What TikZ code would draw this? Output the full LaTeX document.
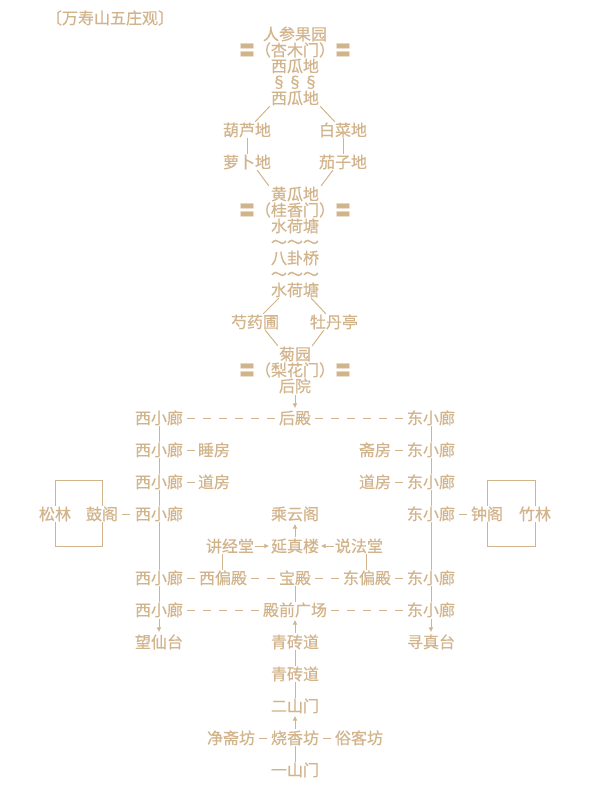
\documentclass[tikz,border=0pt]{standalone}
\usepackage{fontspec}
\newfontfamily\cjk[FakeBold=0.6]{Noto Sans CJK SC}
\usepackage{xcolor}
\usepackage{tikz}
\usetikzlibrary{arrows.meta}
\definecolor{tanline}{HTML}{D2B48C}

\begin{document}
\begin{tikzpicture}[x=1pt, y=-1pt,
  txt/.style={inner sep=0pt, text height=14pt, text depth=2pt, text=tanline,
              font=\cjk\fontsize{16}{16}\selectfont},
  lnk/.style={draw=tanline, line width=1pt},
  dsh/.style={lnk, dash pattern=on 8pt off 8pt, dash phase=12pt},
  arr/.style={lnk, -{Latex[length=5pt,width=5pt]}, shorten <=1pt, shorten >=1.5pt}]
  \useasboundingbox (0,0) rectangle (593,790);

  % garden part
  \node[txt] (title) at (110,18) {〔万寿山五庄观〕};
  \node[txt] (renshen) at (295,34) {人参果园};
  \node[txt] (xingmu) at (295,50) {〓（杏木门）〓};
  \node[txt] (xigua1) at (295,66) {西瓜地};
  \foreach \x [count=\i] in {279,295,311}
    \node[txt] (vine\i) at (\x,82) {§};
  \node[txt] (xigua2) at (295,98) {西瓜地};
  \node[txt] (hulu) at (247,130) {葫芦地};
  \node[txt] (baicai) at (343,130) {白菜地};
  \node[txt] (luobo) at (247,162) {萝卜地};
  \node[txt] (qiezi) at (343,162) {茄子地};
  \node[txt] (huanggua) at (295,194) {黄瓜地};
  \node[txt] (guixiang) at (295,210) {〓（桂香门）〓};
  \node[txt] (pond1) at (295,226) {水荷塘};
  \node[txt] (wave1) at (295,242) {～～～};
  \node[txt] (bagua) at (295,258) {八卦桥};
  \node[txt] (wave2) at (295,274) {～～～};
  \node[txt] (pond2) at (295,290) {水荷塘};
  \node[txt] (shaoyao) at (255,322) {芍药圃};
  \node[txt] (mudan) at (334,322) {牡丹亭};
  \node[txt] (juyuan) at (295,354) {菊园};
  \node[txt] (lihua) at (295,370) {〓（梨花门）〓};
  \node[txt] (houyuan) at (295,386) {后院};

  % halls
  \node[txt] (houdian) at (295,418) {后殿};
  \foreach \y [count=\i] in {418,450,482,514,578,610} {
    \node[txt] (w\i) at (159,\y) {西小廊};
    \node[txt] (e\i) at (431,\y) {东小廊};
  }
  \node[txt] (wangxian) at (159,642) {望仙台};
  \node[txt] (xunzhen) at (431,642) {寻真台};
  \node[txt] (shuifang) at (214,450) {睡房};
  \node[txt] (daofangw) at (214,482) {道房};
  \node[txt] (zhaifang) at (375,450) {斋房};
  \node[txt] (daofange) at (375,482) {道房};
  \node[txt] (songlin) at (55,514) {松林};
  \node[txt] (guge) at (102,514) {鼓阁};
  \node[txt] (zhongge) at (487,514) {钟阁};
  \node[txt] (zhulin) at (535,514) {竹林};
  \node[txt] (chengyun) at (295,514) {乘云阁};
  \node[txt] (jiangjing) at (230,546) {讲经堂};
  \node[txt] (yanzhen) at (295,546) {延真楼};
  \node[txt] (shuofa) at (359,546) {说法堂};
  \node[txt] (xipian) at (223,578) {西偏殿};
  \node[txt] (baodian) at (295,578) {宝殿};
  \node[txt] (dongpian) at (367,578) {东偏殿};
  \node[txt] (guangchang) at (295,610) {殿前广场};
  \node[txt] (qingzhuan1) at (295,642) {青砖道};
  \node[txt] (qingzhuan2) at (295,674) {青砖道};
  \node[txt] (ershan) at (295,706) {二山门};
  \node[txt] (jingzhai) at (231,738) {净斋坊};
  \node[txt] (shaoxiang) at (295,738) {烧香坊};
  \node[txt] (suke) at (359,738) {俗客坊};
  \node[txt] (yishan) at (295,770) {一山门};

  % garden paths
  \draw[lnk] ([xshift=-1pt]xigua2.south west) -- ([xshift=-16pt]hulu.north east);
  \draw[lnk] ([xshift=1pt]xigua2.south east) -- ([xshift=16pt]baicai.north west);
  \draw[lnk] (hulu) -- (luobo);
  \draw[lnk] (baicai) -- (qiezi);
  \draw[lnk] ([xshift=-14pt]luobo.south east) -- ([xshift=-2pt]huanggua.north west);
  \draw[lnk] ([xshift=14pt]qiezi.south west) -- ([xshift=2pt]huanggua.north east);
  \draw[lnk] ([xshift=8pt]pond2.south west) -- ([xshift=-16pt]shaoyao.north east);
  \draw[lnk] ([xshift=-8pt]pond2.south east) -- ([xshift=16pt]mudan.north west);
  \draw[lnk] ([xshift=-14pt]shaoyao.south east) -- ([xshift=-1pt]juyuan.north west);
  \draw[lnk] ([xshift=14pt]mudan.south west) -- ([xshift=1pt]juyuan.north east);
  \draw[arr] (houyuan) -- (houdian);

  % corridors
  \draw[dsh] (w1) -- (houdian) -- (e1);
  \draw[lnk] (w1) -- (w2) -- (w3) -- (w4) -- (w5) -- (w6);
  \draw[lnk] (e1) -- (e2) -- (e3) -- (e4) -- (e5) -- (e6);
  \draw[arr] (w6) -- (wangxian);
  \draw[arr] (e6) -- (xunzhen);
  \draw[dsh] (w2) -- (shuifang);
  \draw[dsh] (w3) -- (daofangw);
  \draw[dsh] (zhaifang) -- (e2);
  \draw[dsh] (daofange) -- (e3);
  \draw[dsh] (guge) -- (w4);
  \draw[dsh] (e4) -- (zhongge);
  \draw[lnk] (songlin.north) -- ++(0,-25) -| (guge.north);
  \draw[lnk] (songlin.south) -- ++(0,24) -| (guge.south);
  \draw[lnk] (zhongge.north) -- ++(0,-25) -| (zhulin.north);
  \draw[lnk] (zhongge.south) -- ++(0,24) -| (zhulin.south);

  % middle axis
  \draw[arr] (yanzhen) -- (chengyun);
  \draw[arr] (jiangjing) -- (yanzhen);
  \draw[arr] (shuofa) -- (yanzhen);
  \draw[lnk] ([xshift=-1pt]jiangjing.south -| xipian) -- ([xshift=-1pt]xipian.north);
  \draw[lnk] ([xshift=-1pt]shuofa.south -| dongpian) -- ([xshift=-1pt]dongpian.north);
  \draw[dsh] (w5) -- (xipian) -- (baodian) -- (dongpian) -- (e5);
  \draw[lnk] (baodian) -- (guangchang);
  \draw[dsh] (w6) -- (guangchang) -- (e6);
  \draw[arr] (qingzhuan1) -- (guangchang);
  \draw[lnk] (qingzhuan1) -- (qingzhuan2) -- (ershan);
  \draw[arr] (shaoxiang) -- (ershan);
  \draw[lnk] (shaoxiang) -- (yishan);
  \draw[dsh] (jingzhai) -- (shaoxiang) -- (suke);
\end{tikzpicture}
\end{document}
